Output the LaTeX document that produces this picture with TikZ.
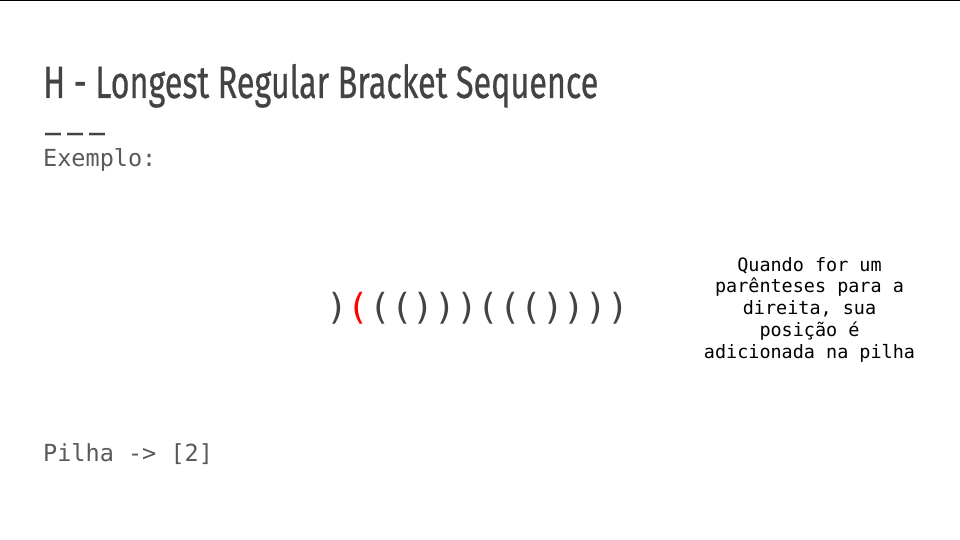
\documentclass[tikz,border=0pt]{standalone}
\usepackage{fontspec}
\usepackage{graphicx}
\newfontfamily\titlefont[FakeBold=0.6]{Fira Sans}
\newfontfamily\codefont{DejaVu Sans Mono}
\definecolor{titlegray}{HTML}{434343}
\definecolor{bodygray}{HTML}{595959}
\definecolor{brred}{HTML}{FF0000}
\newcommand{\brc}[1]{\makebox[21.6pt]{#1}}
\tikzset{
  txt/.style={inner sep=0pt, anchor=base west},
  bodytext/.style={txt, text=bodygray, font=\codefont\fontsize{23.5}{28}\selectfont},
}
\begin{document}
\begin{tikzpicture}[x=1pt,y=-1pt]
\useasboundingbox (0,0) rectangle (960,540);
\fill[black] (0,0) rectangle (960,1.5);
\node[txt, text=titlegray] (title) at (43,98)
  {\resizebox{555pt}{34pt}{\titlefont H - Longest Regular Bracket Sequence}};
\node[txt, text=titlegray, font=\codefont\bfseries\fontsize{26.6}{30}\selectfont] (rule) at (45,129.5)
  {\_\hspace{6pt}\_\hspace{6pt}\_};
\node[bodytext] (ex) at (43,167) {Exemplo:};
\node[txt, text=titlegray, font=\codefont\fontsize{35.9}{40}\selectfont] (seq) at (326.2,319)
  {\brc{)}\brc{\textcolor{brred}{(}}\brc{(}\brc{(}\brc{)}\brc{)}\brc{)}\brc{(}\brc{(}\brc{(}\brc{)}\brc{)}\brc{)}\brc{)}};
\node[inner sep=0pt, anchor=base, align=center, text=black,
      font=\codefont\fontsize{18.45}{21.7}\selectfont] (note) at (809.5,358)
  {Quando for um\\parênteses para a\\direita, sua\\posição é\\adicionada na pilha};
\node[bodytext] (stack) at (43,461) {Pilha -> [2]};
\end{tikzpicture}
\end{document}
